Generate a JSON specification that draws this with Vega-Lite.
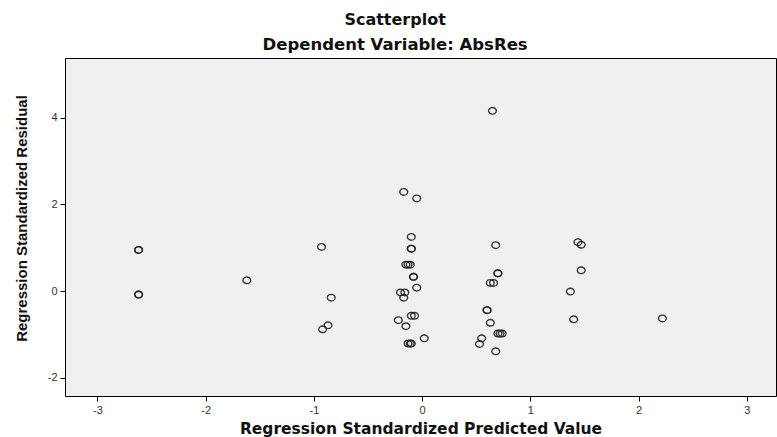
{
  "$schema": "https://vega.github.io/schema/vega-lite/v6.json",
  "autosize": "none",
  "width": 711,
  "height": 338,
  "padding": {"left": 65, "top": 58, "right": 1, "bottom": 41},
  "background": "white",
  "title": {
    "text": "Scatterplot",
    "subtitle": "Dependent Variable: AbsRes",
    "anchor": "middle",
    "frame": "bounds",
    "font": "DejaVu Sans",
    "fontSize": 16,
    "fontWeight": "bold",
    "color": "#111",
    "subtitleFont": "DejaVu Sans",
    "subtitleFontSize": 16.5,
    "subtitleFontWeight": "bold",
    "subtitleColor": "#111",
    "subtitlePadding": 9,
    "offset": 5
  },
  "config": {
    "view": {"fill": "#f0f0f0", "stroke": "#000", "strokeWidth": 1}
  },
  "data": {
    "values": [
      {"pred": -2.62, "res": 0.95}, {"pred": -2.62, "res": 0.95},
      {"pred": -2.62, "res": -0.08}, {"pred": -2.62, "res": -0.08},
      {"pred": -1.62, "res": 0.25},
      {"pred": -0.93, "res": 1.02},
      {"pred": -0.84, "res": -0.15},
      {"pred": -0.87, "res": -0.79},
      {"pred": -0.92, "res": -0.88},
      {"pred": -0.17, "res": 2.29},
      {"pred": -0.05, "res": 2.14},
      {"pred": -0.10, "res": 1.25},
      {"pred": -0.10, "res": 0.98}, {"pred": -0.10, "res": 0.98},
      {"pred": -0.15, "res": 0.61}, {"pred": -0.13, "res": 0.61}, {"pred": -0.11, "res": 0.61},
      {"pred": -0.08, "res": 0.33}, {"pred": -0.08, "res": 0.33},
      {"pred": -0.05, "res": 0.08},
      {"pred": -0.20, "res": -0.03}, {"pred": -0.16, "res": -0.03},
      {"pred": -0.17, "res": -0.15},
      {"pred": -0.10, "res": -0.57}, {"pred": -0.07, "res": -0.57},
      {"pred": -0.22, "res": -0.67},
      {"pred": -0.15, "res": -0.81},
      {"pred": -0.13, "res": -1.21}, {"pred": -0.10, "res": -1.21}, {"pred": -0.11, "res": -1.21},
      {"pred": 0.02, "res": -1.09},
      {"pred": 0.65, "res": 4.16},
      {"pred": 0.68, "res": 1.06},
      {"pred": 0.70, "res": 0.41}, {"pred": 0.70, "res": 0.41},
      {"pred": 0.63, "res": 0.19}, {"pred": 0.66, "res": 0.19},
      {"pred": 0.60, "res": -0.44}, {"pred": 0.60, "res": -0.44},
      {"pred": 0.63, "res": -0.73},
      {"pred": 0.70, "res": -0.98}, {"pred": 0.72, "res": -0.98}, {"pred": 0.74, "res": -0.98},
      {"pred": 0.55, "res": -1.09},
      {"pred": 0.53, "res": -1.22},
      {"pred": 0.68, "res": -1.39},
      {"pred": 1.44, "res": 1.13}, {"pred": 1.47, "res": 1.07},
      {"pred": 1.47, "res": 0.48},
      {"pred": 1.37, "res": -0.01},
      {"pred": 1.40, "res": -0.65},
      {"pred": 2.22, "res": -0.63}
    ]
  },
  "mark": {"type": "point", "shape": "M -1 0 A 1 0.85 0 1 0 1 0 A 1 0.85 0 1 0 -1 0 Z", "filled": false, "stroke": "#222", "strokeWidth": 1.4, "size": 60, "opacity": 0.9},
  "encoding": {
    "x": {
      "field": "pred", "type": "quantitative",
      "scale": {"domain": [-3.3, 3.27], "nice": false, "zero": false},
      "axis": {
        "title": "Regression Standardized Predicted Value",
        "values": [-3, -2, -1, 0, 1, 2, 3],
        "labelExpr": "datum.value + ''",
        "grid": false, "domain": false,
        "tickColor": "#000", "tickSize": 5,
        "labelFont": "Liberation Sans", "labelFontSize": 11, "labelColor": "#333", "labelPadding": 3,
        "titleFont": "DejaVu Sans", "titleFontSize": 15.5, "titleFontWeight": "bold", "titleColor": "#111", "titlePadding": 6
      }
    },
    "y": {
      "field": "res", "type": "quantitative",
      "scale": {"domain": [-2.42, 5.38], "nice": false, "zero": false},
      "axis": {
        "title": "Regression Standardized Residual",
        "values": [-2, 0, 2, 4],
        "labelExpr": "datum.value + ''",
        "grid": false, "domain": false,
        "tickColor": "#000", "tickSize": 5,
        "labelFont": "Liberation Sans", "labelFontSize": 11, "labelColor": "#333", "labelPadding": 3,
        "titleFont": "Liberation Sans", "titleFontSize": 15, "titleFontWeight": "bold", "titleColor": "#111", "titlePadding": 18,
        "titleY": 160
      }
    }
  }
}
